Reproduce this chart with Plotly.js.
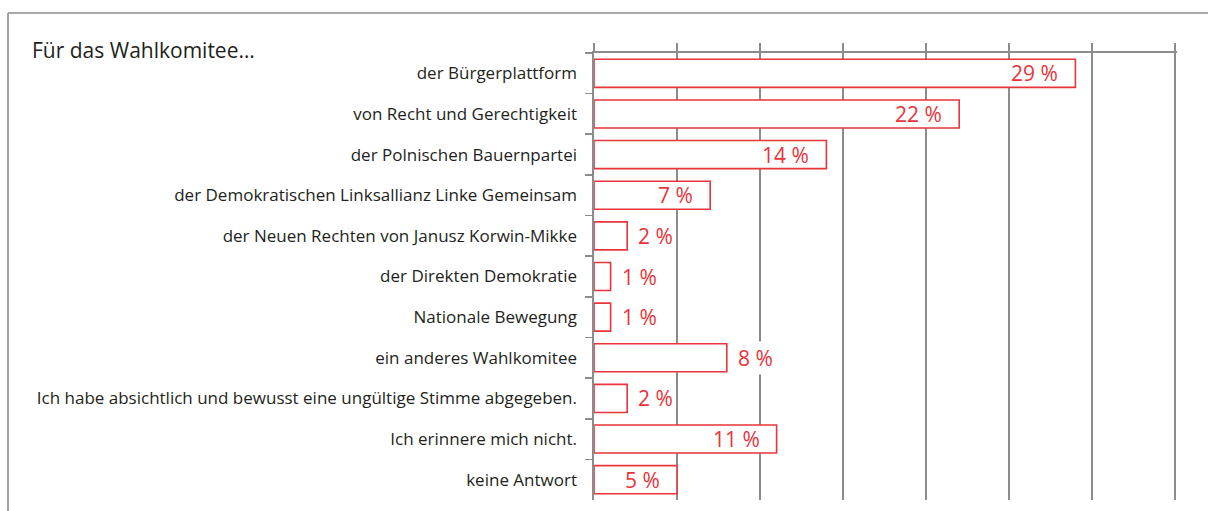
<!DOCTYPE html>
<html>
<head>
<meta charset="utf-8">
<script src="https://cdn.plot.ly/plotly-3.0.1.min.js"></script>
<style>html,body{margin:0;padding:0;background:#fff;}#chart{width:1208px;height:511px;}</style>
</head>
<body>
<div id="chart"></div>
<script>
const categories = [
  "der Bürgerplattform",
  "von Recht und Gerechtigkeit",
  "der Polnischen Bauernpartei",
  "der Demokratischen Linksallianz Linke Gemeinsam",
  "der Neuen Rechten von Janusz Korwin-Mikke",
  "der Direkten Demokratie",
  "Nationale Bewegung",
  "ein anderes Wahlkomitee",
  "Ich habe absichtlich und bewusst eine ungültige Stimme abgegeben.",
  "Ich erinnere mich nicht.",
  "keine Antwort"
];
const values = [29, 22, 14, 7, 2, 1, 1, 8, 2, 11, 5];
const labelPlacement = ["inside","inside","inside","inside","outside","outside","outside","outside","outside","inside","inside"];
const xTicks = [0, 5, 10, 15, 20, 25, 30, 35];
const heading = "Für das Wahlkomitee…";

const W = 1208, H = 511;
const red = "#e8343a";
const grey = "#8c8c8c";
const labelFont = "'Open Sans', Lato, sans-serif";
const pxPerUnit = (1175 - 594) / 35;
const xMax = 35.12;

const trace = {
  type: "bar",
  orientation: "h",
  y: categories,
  x: values,
  width: 0.69,
  marker: { color: "#ffffff", line: { color: red, width: 1.6 } },
  hoverinfo: "skip"
};

const annotations = values.map((v, i) => {
  const inside = labelPlacement[i] === "inside";
  return {
    x: v, y: categories[i], xref: "x", yref: "y",
    text: v + " %",
    showarrow: false,
    xanchor: inside ? "right" : "left",
    xshift: inside ? -14 : 8,
    bgcolor: inside ? "rgba(0,0,0,0)" : "#ffffff",
    borderpad: 2,
    font: { family: labelFont, size: 21, color: red }
  };
});
annotations.push({
  x: 30 / W, y: 1 - 50 / H, xref: "paper", yref: "paper",
  text: heading, showarrow: false, xanchor: "left", yanchor: "middle",
  font: { family: labelFont, size: 21, color: "#231f20" }
});

const layout = {
  width: W, height: H,
  margin: { l: 0, r: 0, t: 0, b: 0 },
  paper_bgcolor: "#ffffff", plot_bgcolor: "#ffffff",
  showlegend: false,
  xaxis: {
    domain: [594 / W, (594 + xMax * pxPerUnit) / W],
    range: [0, xMax],
    side: "top",
    tickvals: xTicks,
    showticklabels: false,
    ticks: "outside", ticklen: 8, tickcolor: grey, tickwidth: 1.6,
    showgrid: true, gridcolor: grey, gridwidth: 1.6,
    showline: true, linecolor: grey, linewidth: 2,
    zeroline: false, fixedrange: true
  },
  yaxis: {
    domain: [1 - 500 / H, 1 - 53 / H],
    autorange: "reversed",
    type: "category",
    tickson: "boundaries",
    ticks: "outside", ticklen: 7, tickcolor: grey, tickwidth: 1.6,
    showline: true, linecolor: grey, linewidth: 1.6,
    showgrid: false, zeroline: false,
    ticklabelstandoff: 12,
    tickfont: { family: labelFont, size: 17, color: "#231f20" },
    fixedrange: true
  },
  shapes: [
    { type: "line", xref: "paper", yref: "paper", x0: 8 / W, x1: 8 / W, y0: 0, y1: 1 - 13 / H, line: { color: grey, width: 1.6 } },
    { type: "line", xref: "paper", yref: "paper", x0: 8 / W, x1: 1, y0: 1 - 13 / H, y1: 1 - 13 / H, line: { color: grey, width: 1.6 } }
  ],
  annotations: annotations
};

Plotly.newPlot("chart", [trace], layout, { displayModeBar: false, staticPlot: true });
</script>
</body>
</html>
